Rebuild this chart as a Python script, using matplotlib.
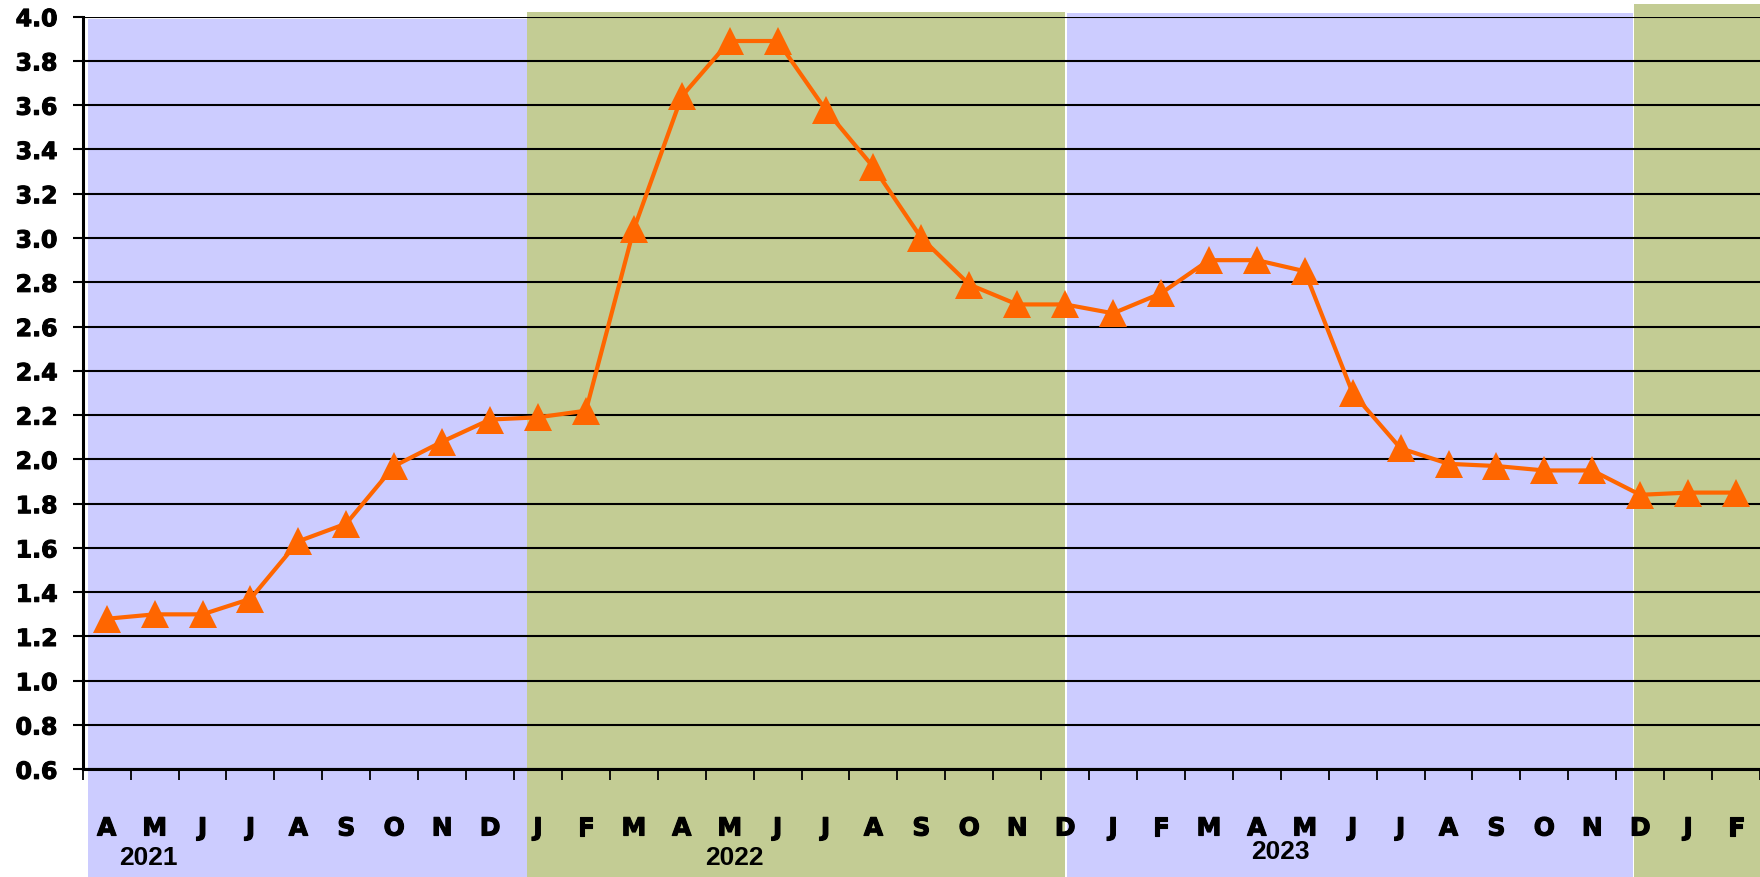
import matplotlib
matplotlib.use("Agg")
import matplotlib.pyplot as plt
import matplotlib.transforms as mtransforms
import matplotlib.patheffects as pe
from matplotlib.patches import Rectangle
import numpy as np

plt.rcParams['font.family'] = ['Liberation Sans', 'DejaVu Sans']

# Monthly values, April 2021 to February 2024
months = ['A', 'M', 'J', 'J', 'A', 'S', 'O', 'N', 'D',
          'J', 'F', 'M', 'A', 'M', 'J', 'J', 'A', 'S', 'O', 'N', 'D',
          'J', 'F', 'M', 'A', 'M', 'J', 'J', 'A', 'S', 'O', 'N', 'D',
          'J', 'F']
values = [1.28, 1.30, 1.30, 1.37, 1.63, 1.71, 1.97, 2.08, 2.18,
          2.19, 2.22, 3.04, 3.64, 3.89, 3.89, 3.58, 3.32, 3.00, 2.79, 2.70, 2.70,
          2.66, 2.75, 2.90, 2.90, 2.85, 2.30, 2.05, 1.98, 1.97, 1.95, 1.95, 1.84,
          1.85, 1.85]
years = ['2021', '2022', '2023']

x = np.arange(len(values)) + 0.5

fig = plt.figure(figsize=(17.6, 8.77), dpi=100)
ax = fig.add_axes([0.047, 0.1228, 0.953, 0.981 - 0.1228])
ax.set_facecolor('none')

# shaded background panels (x in month units, y in figure fraction)
blue = '#CCCCFF'
green = '#C3CC94'
bands = [(0.11, 9.27, blue, 0.978), (9.27, 20.5, green, 0.986),
         (20.54, 32.35, blue, 0.985), (32.38, 35.2, green, 0.995)]
trans = mtransforms.blended_transform_factory(ax.transData, fig.transFigure)
for x0, x1, c, top in bands:
    ax.add_patch(Rectangle((x0, 0), x1 - x0, top, transform=trans, facecolor=c,
                           edgecolor='none', clip_on=False, zorder=0.1))

ax.plot(x, values, color='#FF6600', lw=3.0, marker='^', ms=19.5, mew=0, zorder=3,
        clip_on=False)

tick_font = dict(family='DejaVu Sans', weight='bold')
heavy = [pe.withStroke(linewidth=0.8, foreground='black')]

ax.set_xlim(0, len(values))
ax.set_ylim(0.6, 4.0)
ax.set_yticks(np.arange(0.6, 4.01, 0.2))
ax.set_yticklabels([f'{v:.1f}' for v in np.arange(0.6, 4.01, 0.2)],
                   fontsize=17, **tick_font)
ax.yaxis.grid(True, color='black', lw=1.5)
ax.set_axisbelow(True)

ax.set_xticks(np.arange(0, len(values) + 1))
ax.set_xticklabels([])
ax.set_xticks(x, minor=True)
ax.set_xticklabels(months, minor=True, fontsize=18, **tick_font)
ax.tick_params(axis='x', which='major', length=8, width=1.3, direction='out')
ax.tick_params(axis='x', which='minor', length=0, pad=34)
ax.tick_params(axis='y', length=7.2, width=1.5, pad=11)
for t in ax.get_yticklabels() + ax.get_xticklabels(minor=True):
    t.set_path_effects(heavy)

for s in ['top', 'right']:
    ax.spines[s].set_visible(False)
ax.spines['left'].set_linewidth(2.2)
ax.spines['bottom'].set_linewidth(2.2)

# year labels under the month letters
year_pos = [(1.36, 0.0217), (13.6, 0.0217), (25.0, 0.0285)]
for label, (xp, yp) in zip(years, year_pos):
    ax.text(xp, yp, label, transform=trans, ha='center', va='center',
            fontsize=19, fontweight='bold')

fig.savefig('out.png', dpi=100)
